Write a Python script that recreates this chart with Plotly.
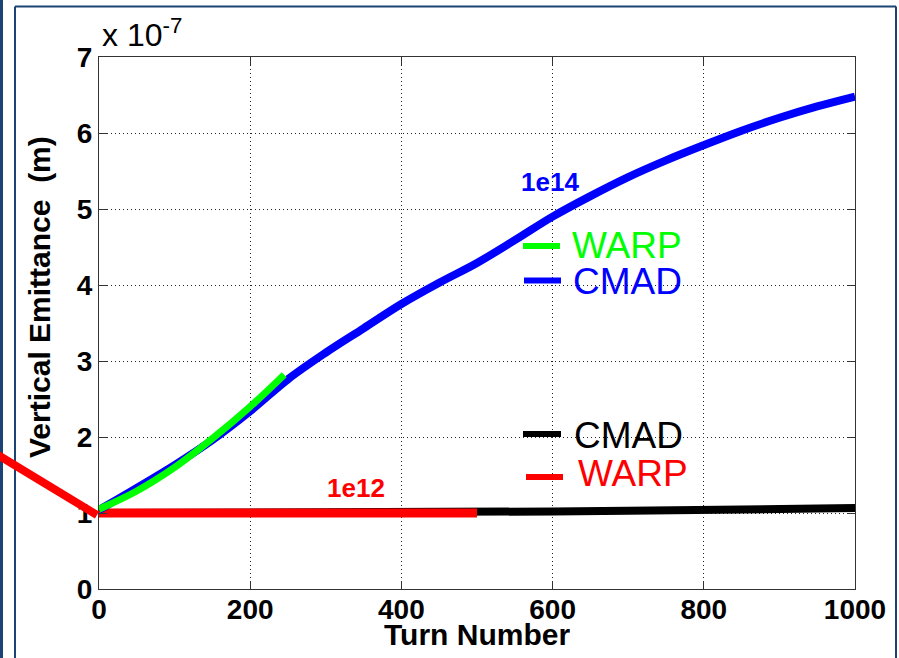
import plotly.graph_objects as go

# ---- data (turn number, vertical emittance in units of 1e-7 m) ----
cmad_1e14_turns = [0, 50, 100, 150, 200, 250, 300, 350, 400, 450, 500, 550, 600, 650, 700, 750, 800, 850, 900, 950, 1000]
cmad_1e14_emit = [1.04, 1.33, 1.63, 1.96, 2.34, 2.76, 3.11, 3.43, 3.75, 4.03, 4.29, 4.59, 4.90, 5.17, 5.42, 5.64, 5.84, 6.03, 6.20, 6.35, 6.48]

warp_1e14_turns = [0, 50, 100, 150, 200, 245]
warp_1e14_emit = [1.05, 1.29, 1.60, 1.98, 2.40, 2.82]

cmad_1e12_turns = [0, 250, 500, 600, 700, 800, 900, 1000]
cmad_1e12_emit = [1.0, 1.0, 1.005, 1.02, 1.03, 1.04, 1.05, 1.065]

warp_1e12_turns = [0, 250, 500]
warp_1e12_emit = [1.0, 1.0, 1.0]

x_ticks = [0, 200, 400, 600, 800, 1000]
y_ticks = [0, 1, 2, 3, 4, 5, 6, 7]

# ---- layout geometry (pixels) ----
W, H = 899, 658
L, R, T, B = 99, 855, 57, 589


def xp(px):
    return (px - L) / (R - L)


def yp(py):
    return (B - py) / (B - T)


def xd(px):
    return (px - L) / (R - L) * 1000


def yd(py):
    return (B - py) / (B - T) * 7


fig = go.Figure()
fig.add_trace(go.Scatter(x=cmad_1e12_turns, y=cmad_1e12_emit, mode="lines",
                         line=dict(color="#000000", width=8), showlegend=False))
fig.add_trace(go.Scatter(x=warp_1e12_turns, y=warp_1e12_emit, mode="lines",
                         line=dict(color="#ff0000", width=9), showlegend=False))
fig.add_trace(go.Scatter(x=cmad_1e14_turns, y=cmad_1e14_emit, mode="lines",
                         line=dict(color="#0000ff", width=8, shape="spline", smoothing=1.0), showlegend=False))
fig.add_trace(go.Scatter(x=warp_1e14_turns, y=warp_1e14_emit, mode="lines",
                         line=dict(color="#00ff00", width=7, shape="spline"), showlegend=False))

tickfont = dict(family="Arial", size=28, color="black", weight="bold")
axis_common = dict(showline=True, linecolor="#333333", linewidth=1, mirror="ticks",
                   ticks="inside", ticklen=8, tickcolor="#333333",
                   showgrid=True, gridcolor="#222222", gridwidth=1, griddash="1px,3px",
                   zeroline=False, tickfont=tickfont)

fig.update_xaxes(range=[0, 1000], tickvals=x_ticks, ticktext=[str(v) for v in x_ticks],
                 ticklabelstandoff=-5, **axis_common)
fig.update_yaxes(range=[0, 7], tickvals=y_ticks, ticktext=[str(v) for v in y_ticks], **axis_common)

shapes = []
# figure frame
frame_col = "#1b4373"
shapes.append(dict(type="line", xref="paper", yref="paper", x0=xp(1.5), x1=xp(1.5), y0=yp(0), y1=yp(700),
                   line=dict(color=frame_col, width=3)))
shapes.append(dict(type="line", xref="paper", yref="paper", x0=xp(15), x1=xp(15), y0=yp(6.5), y1=yp(700),
                   line=dict(color=frame_col, width=2)))
shapes.append(dict(type="line", xref="paper", yref="paper", x0=xp(15), x1=xp(896), y0=yp(6.5), y1=yp(6.5),
                   line=dict(color=frame_col, width=2)))
shapes.append(dict(type="line", xref="paper", yref="paper", x0=xp(896), x1=xp(896), y0=yp(6.5), y1=yp(700),
                   line=dict(color=frame_col, width=2)))
# stray red pointer line
shapes.append(dict(type="line", xref="paper", yref="paper", x0=xp(-2), y0=yp(455), x1=xp(97), y1=yp(515),
                   line=dict(color="#ff0000", width=8), layer="above"))
# legend line segments
leg = [(523, 560, 246, "#00ff00"), (524, 561, 280.5, "#0000ff"),
       (523, 561, 434, "#000000"), (526, 563, 477, "#ff0000")]
for x0, x1, y, c in leg:
    shapes.append(dict(type="line", xref="x", yref="y", x0=xd(x0), x1=xd(x1), y0=yd(y), y1=yd(y),
                       line=dict(color=c, width=6)))
fig.update_layout(shapes=shapes)

ann = []
leg_text = [(570, 245, "WARP", "#00ff00"), (571, 281, "CMAD", "#0000ff"),
            (572, 435, "CMAD", "#000000"), (576, 473, "WARP", "#ff0000")]
for x, y, t, c in leg_text:
    ann.append(dict(x=xd(x), y=yd(y), xref="x", yref="y", text=t, showarrow=False,
                    xanchor="left", yanchor="middle", height=32,
                    font=dict(family="Arial", size=37, color=c)))
ann.append(dict(x=xd(550), y=yd(182), xref="x", yref="y", text="1e14", showarrow=False,
                font=dict(family="Arial", size=26, color="#0000ff", weight="bold")))
ann.append(dict(x=xd(356), y=yd(488), xref="x", yref="y", text="1e12", showarrow=False,
                font=dict(family="Arial", size=26, color="#ff0000", weight="bold")))
ann.append(dict(x=xp(100), y=yp(55), xref="paper", yref="paper", text="x 10<sup>-7</sup>",
                showarrow=False, xanchor="left", yanchor="bottom",
                font=dict(family="Arial", size=32, color="black")))
ann.append(dict(x=xp(477), y=yp(634), xref="paper", yref="paper", text="Turn Number",
                showarrow=False, xanchor="center", yanchor="middle", height=26,
                font=dict(family="Arial", size=30, color="black", weight="bold")))
ann.append(dict(x=xp(39), y=yp(297), xref="paper", yref="paper", text="Vertical Emittance  (m)",
                showarrow=False, xanchor="center", yanchor="middle", textangle=-90,
                font=dict(family="Arial", size=30, color="black", weight="bold")))

fig.update_layout(annotations=ann, width=W, height=H, autosize=False,
                  margin=dict(l=L, r=W - R, t=T, b=H - B, pad=0),
                  paper_bgcolor="white", plot_bgcolor="white")

fig.write_html("out.html")
